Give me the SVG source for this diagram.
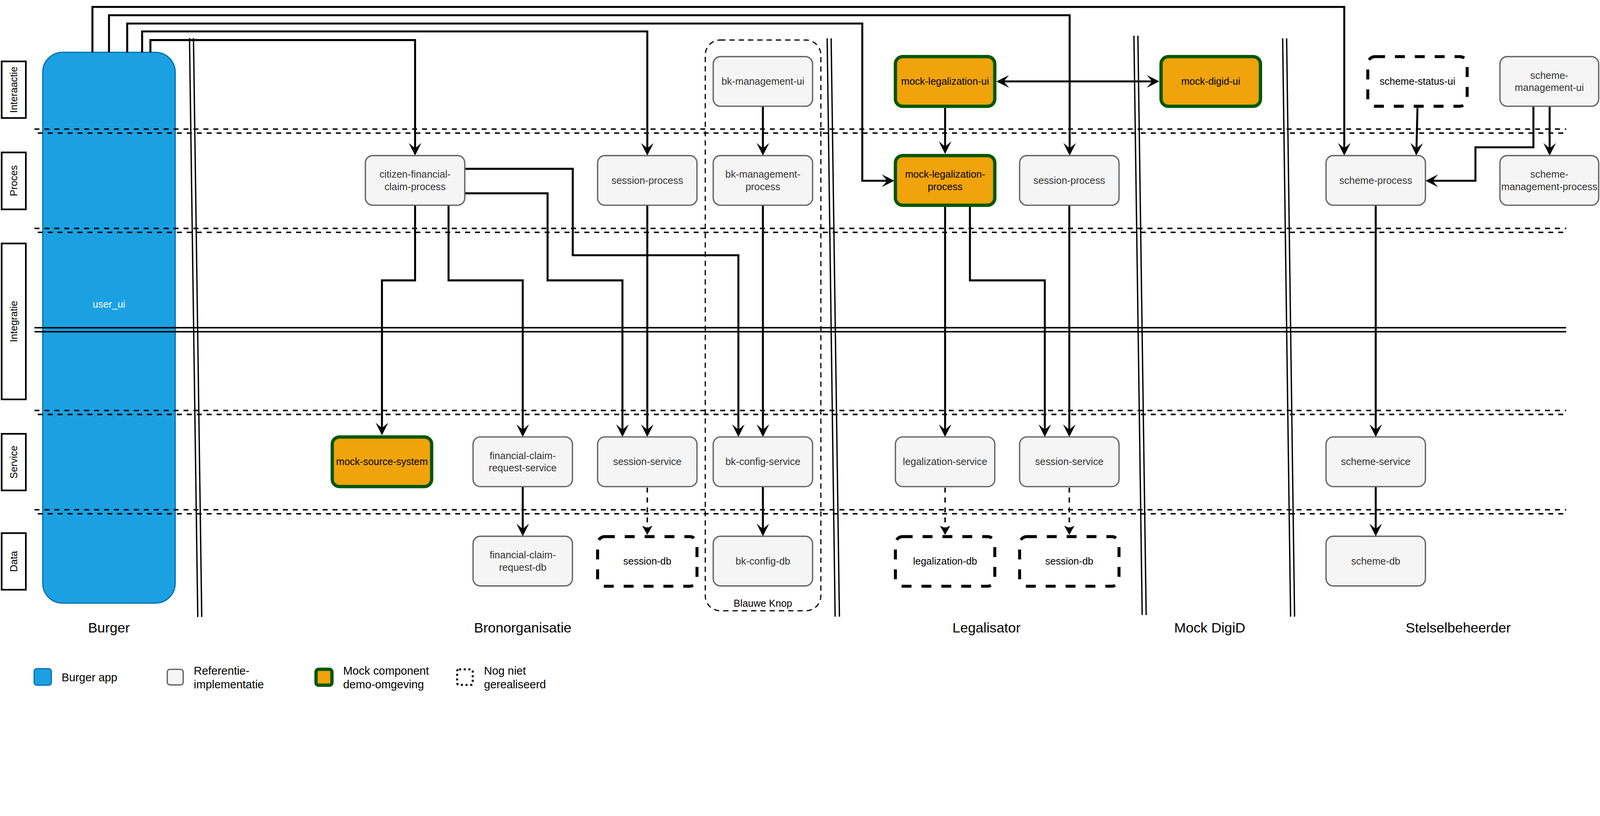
<svg xmlns="http://www.w3.org/2000/svg" width="4830" height="2090" viewBox="0 0 4830 2090" style="max-width:100%;height:auto;display:block">
<style>
text{font-family:"Liberation Sans",Arial,sans-serif;}
.ref{fill:#F5F5F5;stroke:#666666;stroke-width:4;}
.mock{fill:#F0A30A;stroke:#005700;stroke-width:10;}
.todo{fill:#FFFFFF;stroke:#000000;stroke-width:9;stroke-dasharray:30 30;}
.t{font-size:30px;text-anchor:middle;fill:#333333;}
.tb{font-size:30px;text-anchor:middle;fill:#000000;}
.lane{fill:#FFFFFF;stroke:#000000;stroke-width:5;}
.lanet{font-size:30px;text-anchor:middle;fill:#000000;}
.col{font-size:42px;text-anchor:middle;fill:#000000;}
.leg{font-size:34px;fill:#000000;}
.dl{stroke:#000000;stroke-width:4.5;stroke-dasharray:15 15;fill:none;}
.sl{stroke:#000000;stroke-width:4.5;fill:none;}
.sep{stroke:#000000;stroke-width:4;fill:none;}
.c{stroke:#000000;stroke-width:6;fill:none;marker-end:url(#arr);}
.cd{stroke:#000000;stroke-width:4.5;fill:none;stroke-dasharray:15 15;marker-end:url(#arrs);}
</style>
<defs>
<marker id="arr" markerUnits="userSpaceOnUse" viewBox="0 0 38 38" markerWidth="38" markerHeight="38" refX="18" refY="19" orient="auto-start-reverse">
<path d="M38,19 L0,0 L16,19 L0,38 Z" fill="#000000"/>
</marker>
<marker id="arrs" markerUnits="userSpaceOnUse" viewBox="0 0 28 31" markerWidth="28" markerHeight="31" refX="12" refY="15.5" orient="auto">
<path d="M28,15.5 L0,0 L7,15.5 L0,31 Z" fill="#000000"/>
</marker>
</defs>
<rect width="4830" height="2090" fill="#FFFFFF"/>

<g id="lane-labels">
<rect class="lane" x="5" y="185.5" width="73" height="171"/>
<text class="lanet" transform="translate(52,271) rotate(-90)">Interaactie</text>
<rect class="lane" x="5" y="460.5" width="73" height="172"/>
<text class="lanet" transform="translate(52,546) rotate(-90)">Proces</text>
<rect class="lane" x="5" y="735.5" width="73" height="471"/>
<text class="lanet" transform="translate(52,971) rotate(-90)">Integratie</text>
<rect class="lane" x="5" y="1310.5" width="73" height="171"/>
<text class="lanet" transform="translate(52,1396) rotate(-90)">Service</text>
<rect class="lane" x="5" y="1610.5" width="73" height="171"/>
<text class="lanet" transform="translate(52,1696) rotate(-90)">Data</text>
</g>

<g id="user_ui">
<rect x="129" y="158" width="400" height="1664" rx="60" ry="60" fill="#1BA1E2" stroke="#006EAF" stroke-width="3.5"/>
<text x="329" y="930" font-size="30" text-anchor="middle" fill="#FFFFFF">user_ui</text>
</g>

<g id="layer-lines">
<line class="dl" x1="104" y1="390" x2="4728" y2="390"/>
<line class="dl" x1="104" y1="402" x2="4728" y2="402" stroke-dashoffset="20"/>
<line class="dl" x1="104" y1="690" x2="4728" y2="690"/>
<line class="dl" x1="104" y1="702" x2="4728" y2="702" stroke-dashoffset="20"/>
<line class="sl" x1="104" y1="990" x2="4728" y2="990"/>
<line class="sl" x1="104" y1="1002" x2="4728" y2="1002"/>
<line class="dl" x1="104" y1="1240" x2="4728" y2="1240"/>
<line class="dl" x1="104" y1="1252" x2="4728" y2="1252" stroke-dashoffset="20"/>
<line class="dl" x1="104" y1="1540" x2="4728" y2="1540"/>
<line class="dl" x1="104" y1="1552" x2="4728" y2="1552" stroke-dashoffset="20"/>
</g>

<g id="separators">
<line class="sep" x1="572" y1="115" x2="597" y2="1864"/>
<line class="sep" x1="584" y1="115" x2="609" y2="1864"/>
<line class="sep" x1="2497" y1="116" x2="2521" y2="1863"/>
<line class="sep" x1="2509" y1="116" x2="2534" y2="1863"/>
<line class="sep" x1="3423" y1="108" x2="3448" y2="1858"/>
<line class="sep" x1="3435" y1="108" x2="3460" y2="1858"/>
<line class="sep" x1="3872" y1="116" x2="3896" y2="1863"/>
<line class="sep" x1="3884" y1="116" x2="3908" y2="1863"/>
</g>

<g id="blauwe-knop">
<rect x="2129" y="121" width="349" height="1724" rx="45" ry="45" fill="none" stroke="#000000" stroke-width="3.5" stroke-dasharray="16 12"/>
<text class="tb" x="2303" y="1833">Blauwe Knop</text>
</g>

<g id="column-labels">
<text class="col" x="329" y="1911">Burger</text>
<text class="col" x="1578" y="1911">Bronorganisatie</text>
<text class="col" x="2978" y="1911">Legalisator</text>
<text class="col" x="3652" y="1911">Mock DigiD</text>
<text class="col" x="4402" y="1911">Stelselbeheerder</text>
</g>

<g id="connectors">
<path class="c" d="M279,158 V21 H4058 V450"/>
<path class="c" d="M329,158 V46 H3229 V450"/>
<path class="c" d="M384,158 V71 H2603 V546 H2680"/>
<path class="c" d="M429,158 V95 H1954 V450"/>
<path class="c" d="M454,158 V121 H1253 V450"/>
<path class="c" d="M1253,620 V847 H1153 V1295"/>
<path class="c" d="M1354,620 V847 H1578 V1300"/>
<path class="c" d="M1403,510 H1729 V771 H2229 V1300"/>
<path class="c" d="M1403,584 H1653 V847 H1879 V1300"/>
<path class="c" d="M1954,620 V1300"/>
<path class="c" d="M2303,321 V450"/>
<path class="c" d="M2303,620 V1300"/>
<path class="c" d="M2303,1470 V1600"/>
<path class="c" d="M1578,1470 V1600"/>
<path class="cd" d="M1954,1473 V1600"/>
<path class="c" d="M3028,246 H3480" marker-start="url(#arr)"/>
<path class="c" d="M2853,326 V445"/>
<path class="c" d="M2853,625 V1300"/>
<path class="c" d="M2928,625 V847 H3154 V1300"/>
<path class="c" d="M3228,620 V1300"/>
<path class="cd" d="M2853,1473 V1600"/>
<path class="cd" d="M3228,1473 V1600"/>
<path class="c" d="M4279,326 L4276,450"/>
<path class="c" d="M4629,321 V445 H4454 V546 H4323"/>
<path class="c" d="M4678,321 V450"/>
<path class="c" d="M4153,620 V1300"/>
<path class="c" d="M4153,1470 V1600"/>
</g>

<g id="mock-source-system">
<rect class="mock" x="1003" y="1320" width="300" height="150" rx="22"/>
<text class="tb" x="1153" y="1405">mock-source-system</text>
</g>
<g id="citizen-financial-claim-process">
<rect class="ref" x="1103" y="470" width="300" height="150" rx="22"/>
<text class="t" x="1253" y="537">citizen-financial-</text>
<text class="t" x="1253" y="574">claim-process</text>
</g>
<g id="financial-claim-request-service">
<rect class="ref" x="1428" y="1320" width="300" height="150" rx="22"/>
<text class="t" x="1578" y="1387">financial-claim-</text>
<text class="t" x="1578" y="1424">request-service</text>
</g>
<g id="financial-claim-request-db">
<rect class="ref" x="1428" y="1620" width="300" height="150" rx="22"/>
<text class="t" x="1578" y="1687">financial-claim-</text>
<text class="t" x="1578" y="1724">request-db</text>
</g>
<g id="session-process-bron">
<rect class="ref" x="1804" y="470" width="300" height="150" rx="22"/>
<text class="t" x="1954" y="555">session-process</text>
</g>
<g id="session-service-bron">
<rect class="ref" x="1804" y="1320" width="300" height="150" rx="22"/>
<text class="t" x="1954" y="1405">session-service</text>
</g>
<g id="session-db-bron">
<rect class="todo" x="1804" y="1621" width="300" height="150" rx="22"/>
<text class="tb" x="1954" y="1706">session-db</text>
</g>
<g id="bk-management-ui">
<rect class="ref" x="2153" y="171" width="300" height="150" rx="22"/>
<text class="t" x="2303" y="256">bk-management-ui</text>
</g>
<g id="bk-management-process">
<rect class="ref" x="2153" y="470" width="300" height="150" rx="22"/>
<text class="t" x="2303" y="537">bk-management-</text>
<text class="t" x="2303" y="574">process</text>
</g>
<g id="bk-config-service">
<rect class="ref" x="2153" y="1320" width="300" height="150" rx="22"/>
<text class="t" x="2303" y="1405">bk-config-service</text>
</g>
<g id="bk-config-db">
<rect class="ref" x="2153" y="1620" width="300" height="150" rx="22"/>
<text class="t" x="2303" y="1705">bk-config-db</text>
</g>
<g id="mock-legalization-ui">
<rect class="mock" x="2703" y="171" width="300" height="150" rx="22"/>
<text class="tb" x="2853" y="256">mock-legalization-ui</text>
</g>
<g id="mock-legalization-process">
<rect class="mock" x="2703" y="470" width="300" height="150" rx="22"/>
<text class="tb" x="2853" y="537">mock-legalization-</text>
<text class="tb" x="2853" y="574">process</text>
</g>
<g id="session-process-legal">
<rect class="ref" x="3078" y="470" width="300" height="150" rx="22"/>
<text class="t" x="3228" y="555">session-process</text>
</g>
<g id="legalization-service">
<rect class="ref" x="2703" y="1320" width="300" height="150" rx="22"/>
<text class="t" x="2853" y="1405">legalization-service</text>
</g>
<g id="legalization-db">
<rect class="todo" x="2703" y="1621" width="300" height="150" rx="22"/>
<text class="tb" x="2853" y="1706">legalization-db</text>
</g>
<g id="session-service-legal">
<rect class="ref" x="3078" y="1320" width="300" height="150" rx="22"/>
<text class="t" x="3228" y="1405">session-service</text>
</g>
<g id="session-db-legal">
<rect class="todo" x="3078" y="1621" width="300" height="150" rx="22"/>
<text class="tb" x="3228" y="1706">session-db</text>
</g>
<g id="mock-digid-ui">
<rect class="mock" x="3505" y="171" width="300" height="150" rx="22"/>
<text class="tb" x="3655" y="256">mock-digid-ui</text>
</g>
<g id="scheme-status-ui">
<rect class="todo" x="4129" y="171" width="300" height="150" rx="22"/>
<text class="tb" x="4279" y="256">scheme-status-ui</text>
</g>
<g id="scheme-management-ui">
<rect class="ref" x="4528" y="171" width="298" height="150" rx="22"/>
<text class="t" x="4677" y="238">scheme-</text>
<text class="t" x="4677" y="275">management-ui</text>
</g>
<g id="scheme-process">
<rect class="ref" x="4003" y="470" width="300" height="150" rx="22"/>
<text class="t" x="4153" y="555">scheme-process</text>
</g>
<g id="scheme-management-process">
<rect class="ref" x="4528" y="470" width="298" height="150" rx="22"/>
<text class="t" x="4677" y="537">scheme-</text>
<text class="t" x="4677" y="574">management-process</text>
</g>
<g id="scheme-service">
<rect class="ref" x="4003" y="1320" width="300" height="150" rx="22"/>
<text class="t" x="4153" y="1405">scheme-service</text>
</g>
<g id="scheme-db">
<rect class="ref" x="4003" y="1620" width="300" height="150" rx="22"/>
<text class="t" x="4153" y="1705">scheme-db</text>
</g>

<g id="legend">
<rect x="103" y="2020" width="52" height="50" rx="8" fill="#1BA1E2" stroke="#006EAF" stroke-width="3.5"/>
<text class="leg" x="186" y="2058">Burger app</text>
<rect x="505" y="2022" width="48" height="47" rx="8" fill="#F5F5F5" stroke="#666666" stroke-width="4"/>
<text class="leg" x="585" y="2038">Referentie-</text>
<text class="leg" x="585" y="2079">implementatie</text>
<rect x="954" y="2022" width="48" height="48" rx="8" fill="#F0A30A" stroke="#005700" stroke-width="10"/>
<text class="leg" x="1036" y="2038">Mock component</text>
<text class="leg" x="1036" y="2079">demo-omgeving</text>
<rect x="1380" y="2022" width="47" height="47" rx="6" fill="#FFFFFF" stroke="#000000" stroke-width="6" stroke-dasharray="6 8"/>
<text class="leg" x="1461" y="2038">Nog niet</text>
<text class="leg" x="1461" y="2079">gerealiseerd</text>
</g>
</svg>
